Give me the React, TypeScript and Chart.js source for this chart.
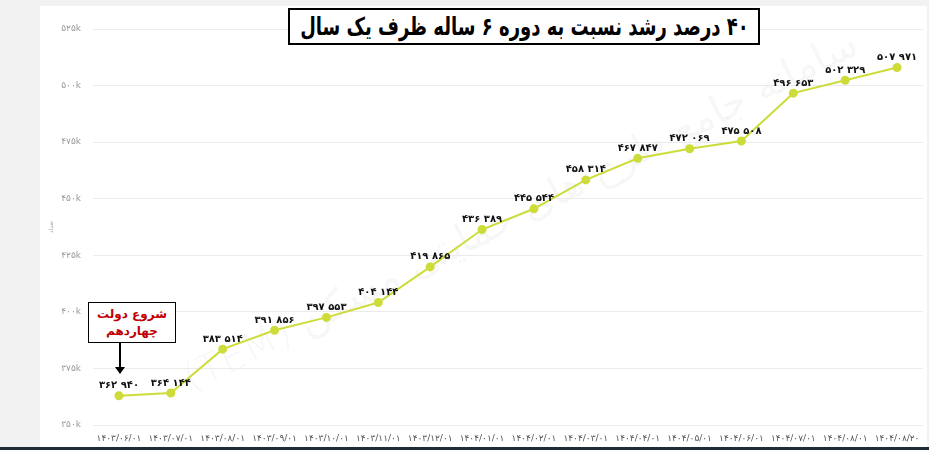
import React, { useEffect, useRef } from "react";
import { Chart, registerables } from "chart.js";

Chart.register(...registerables);

const categories: string[] = [
  "۱۴۰۳/۰۶/۰۱", "۱۴۰۳/۰۷/۰۱", "۱۴۰۳/۰۸/۰۱", "۱۴۰۳/۰۹/۰۱",
  "۱۴۰۳/۱۰/۰۱", "۱۴۰۳/۱۱/۰۱", "۱۴۰۳/۱۲/۰۱", "۱۴۰۴/۰۱/۰۱",
  "۱۴۰۴/۰۲/۰۱", "۱۴۰۴/۰۳/۰۱", "۱۴۰۴/۰۴/۰۱", "۱۴۰۴/۰۵/۰۱",
  "۱۴۰۴/۰۶/۰۱", "۱۴۰۴/۰۷/۰۱", "۱۴۰۴/۰۸/۰۱", "۱۴۰۴/۰۸/۲۰",
];

const values: number[] = [
  362940, 364144, 383514, 391856, 397553, 404144, 419865, 436389,
  445544, 458314, 467847, 472069, 475508, 496653, 502329, 507971,
];

const yMin = 350000;
const yMax = 525000;
const yStep = 25000;

const titleText = "۴۰ درصد رشد نسبت به دوره ۶ ساله ظرف یک سال";
const noteLines: string[] = ["شروع دولت", "چهاردهم"];
const yAxisTitle = "تعداد";
const watermark = "سامانه جامع طرح های حمایتی مسکن (TEM)";

const faDigits = "۰۱۲۳۴۵۶۷۸۹";
const toFa = (s: string) => s.replace(/[0-9]/g, (d) => faDigits[Number(d)]);
const fmtValue = (v: number) => toFa(String(v).replace(/\B(?=(\d{3})+(?!\d))/g, " "));

const FONT = "'DejaVu Sans', sans-serif";

const labelPlugin = {
  id: "valueLabels",
  afterDatasetsDraw(chart: any) {
    const ctx = chart.ctx;
    const meta = chart.getDatasetMeta(0);
    ctx.save();
    ctx.font = `bold 10px ${FONT}`;
    ctx.fillStyle = "#111";
    ctx.textAlign = "center";
    ctx.textBaseline = "middle";
    meta.data.forEach((pt: any, i: number) => {
      ctx.fillText(fmtValue(values[i]), pt.x, pt.y - 10);
    });
    ctx.restore();
  },
};

export default function App() {
  const canvasRef = useRef<HTMLCanvasElement | null>(null);

  useEffect(() => {
    if (!canvasRef.current) return;
    const chart = new Chart(canvasRef.current, {
      type: "line",
      data: {
        labels: categories,
        datasets: [
          {
            data: values,
            borderColor: "#cddc39",
            backgroundColor: "#cddc39",
            borderWidth: 2,
            pointRadius: 3.5,
            pointBackgroundColor: "#cddc39",
            pointBorderColor: "#cddc39",
            tension: 0,
          },
        ],
      },
      options: {
        animation: false,
        responsive: false,
        maintainAspectRatio: false,
        layout: { padding: { left: 40, right: 6, top: 29, bottom: 3 } },
        plugins: {
          legend: { display: false },
          tooltip: { enabled: false },
        },
        scales: {
          x: {
            offset: true,
            grid: { display: false, drawTicks: false },
            border: { display: false },
            ticks: {
              autoSkip: false,
              maxRotation: 0,
              minRotation: 0,
              padding: 8,
              color: "#555",
              font: { family: FONT, size: 9 },
            },
            afterFit: (s: any) => {
              s.height = 22;
            },
          },
          y: {
            min: yMin,
            max: yMax,
            grid: { color: "#ebebeb", lineWidth: 1, drawTicks: false },
            border: { display: false },
            ticks: {
              stepSize: yStep,
              padding: 12,
              color: "#999",
              font: { family: FONT, size: 9 },
              callback: (v: any) => toFa(String(Number(v) / 1000)) + "k",
            },
            title: {
              display: true,
              text: yAxisTitle,
              color: "#aaa",
              font: { family: FONT, size: 6 },
              padding: { top: 8, bottom: 0 },
            },
            afterFit: (s: any) => {
              s.width = 53;
            },
          },
        },
      },
      plugins: [labelPlugin],
    });
    return () => chart.destroy();
  }, []);

  return (
    <div
      style={{
        position: "fixed",
        left: 0,
        top: 0,
        width: 929,
        height: 450,
        background: "#f2f2f2",
        overflow: "hidden",
      }}
    >
      <div
        style={{
          position: "absolute",
          left: 40,
          top: 6,
          width: 887,
          height: 441,
          background: "#ffffff",
        }}
      />
      <div
        style={{
          position: "absolute",
          left: 0,
          top: 447,
          width: 929,
          height: 3,
          background: "#1e2c38",
        }}
      />
      <div
        style={{
          position: "absolute",
          left: 520,
          top: 210,
          transform: "translate(-50%, -50%) rotate(-27deg)",
          whiteSpace: "nowrap",
          fontFamily: FONT,
          fontSize: 40,
          fontWeight: 200,
          color: "rgba(0,0,0,0.05)",
          direction: "rtl",
          pointerEvents: "none",
        }}
      >
        {watermark}
      </div>
      <canvas
        ref={canvasRef}
        width={929}
        height={450}
        style={{ position: "absolute", left: 0, top: 0, width: 929, height: 450 }}
      />
      <div
        style={{
          position: "absolute",
          left: 288,
          top: 8,
          width: 472,
          height: 37,
          boxSizing: "border-box",
          border: "2px solid #000",
          background: "#fff",
          display: "flex",
          alignItems: "center",
          justifyContent: "center",
          overflow: "hidden",
        }}
      >
        <span
          style={{
            display: "inline-block",
            fontFamily: FONT,
            fontWeight: "bold",
            fontSize: 25,
            color: "#000",
            direction: "rtl",
            whiteSpace: "nowrap",
            transform: "scaleX(0.72)",
            transformOrigin: "center",
          }}
        >
          {titleText}
        </span>
      </div>
      <div
        style={{
          position: "absolute",
          left: 88,
          top: 302,
          width: 88,
          height: 41,
          boxSizing: "border-box",
          border: "1.5px solid #000",
          background: "#fff",
          display: "flex",
          flexDirection: "column",
          alignItems: "center",
          justifyContent: "center",
          fontFamily: FONT,
          fontWeight: "bold",
          fontSize: 12,
          lineHeight: "17px",
          color: "#c00000",
          direction: "rtl",
        }}
      >
        {noteLines.map((l, i) => (
          <div key={i}>{l}</div>
        ))}
      </div>
      <svg
        style={{ position: "absolute", left: 110, top: 343, width: 20, height: 34 }}
        viewBox="0 0 20 34"
      >
        <line x1="10" y1="0" x2="10" y2="26" stroke="#000" strokeWidth="2" />
        <polygon points="5,24 15,24 10,31" fill="#000" />
      </svg>
    </div>
  );
}
